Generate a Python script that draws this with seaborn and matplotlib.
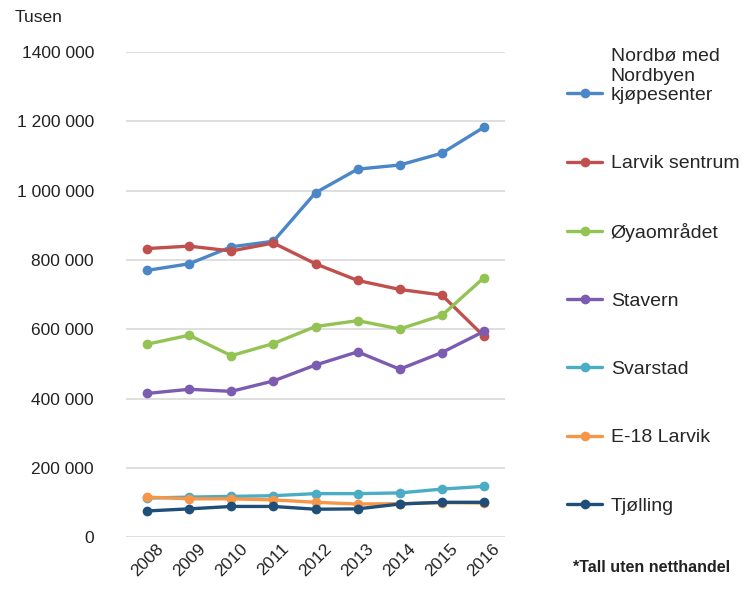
import matplotlib
matplotlib.use("Agg")
import matplotlib.pyplot as plt
import seaborn as sns
import pandas as pd

years = ["2008", "2009", "2010", "2011", "2012", "2013", "2014", "2015", "2016"]

nordbo = [770000, 789000, 838000, 854000, 994000, 1062000, 1074000, 1108000, 1183000]
larvik_sentrum = [833000, 840000, 826000, 849000, 789000, 741000, 715000, 699000, 580000]
oyaomradet = [557000, 583000, 524000, 559000, 608000, 625000, 601000, 640000, 749000]
stavern = [415000, 427000, 421000, 451000, 497000, 535000, 485000, 533000, 594000]
svarstad = [113000, 116000, 118000, 120000, 126000, 126000, 128000, 139000, 147000]
e18_larvik = [116000, 111000, 111000, 108000, 101000, 96000, 97000, 100000, 99000]
tjolling = [76000, 82000, 89000, 89000, 81000, 82000, 96000, 101000, 101000]

series_names = ["Nordbø med\nNordbyen\nkjøpesenter", "Larvik sentrum", "Øyaområdet",
                "Stavern", "Svarstad", "E-18 Larvik", "Tjølling"]
series_values = [nordbo, larvik_sentrum, oyaomradet, stavern, svarstad, e18_larvik, tjolling]
colors = ["#4a86c8", "#c0504d", "#92c353", "#7b5cb0", "#4bacc6", "#f79646", "#1f4e79"]

ytick_values = [0, 200000, 400000, 600000, 800000, 1000000, 1200000, 1400000]
ytick_labels = ["0", "200 000", "400 000", "600 000", "800 000", "1 000 000", "1 200 000", "1400 000"]

rows = []
for name, vals in zip(series_names, series_values):
    for i, (y, v) in enumerate(zip(years, vals)):
        rows.append({"idx": i, "year": y, "value": v, "serie": name})
df = pd.DataFrame(rows)

sns.set_theme(style="white")
plt.rcParams["font.family"] = ["Liberation Sans", "DejaVu Sans"]

fig = plt.figure(figsize=(7.43, 5.99), dpi=100)
ax = fig.add_axes([126 / 743, 1 - 537.3 / 599, (505 - 126) / 743, (537.3 - 52) / 599])

sns.lineplot(data=df, x="idx", y="value", hue="serie", hue_order=series_names,
             palette=colors, marker="o", markersize=7, markeredgewidth=0,
             linewidth=2.4, ax=ax, legend=True, clip_on=False)

ax.set_xlim(-0.5, len(years) - 0.5)
ax.set_ylim(0, 1400000)
ax.set_yticks(ytick_values)
ax.set_yticklabels(ytick_labels, fontsize=12.5, color="#222222")
ax.set_xticks(range(len(years)))
ax.set_xticklabels(years, rotation=45, ha="center", fontsize=12.5, color="#222222")
ax.tick_params(axis="y", length=0, pad=23)
ax.tick_params(axis="x", length=0, pad=3)
ax.set_xlabel("")
ax.set_ylabel("")
ax.grid(axis="y", color="#d9d9d9", linewidth=1.2)
ax.grid(axis="x", visible=False)
ax.set_axisbelow(True)
for s in ax.spines.values():
    s.set_visible(False)

handles, labels = ax.get_legend_handles_labels()
ax.legend_.remove()
leg = fig.legend(handles, labels, loc="upper left", bbox_to_anchor=(567 / 743, 1 - 48 / 599),
                 frameon=False, fontsize=14, handlelength=1.8, handletextpad=0.45,
                 labelspacing=2.6, borderpad=0, borderaxespad=0)
# align the handle of the multi-line entry with its lower text lines
try:
    for col in leg._legend_handle_box.get_children():
        for hp in col.get_children():
            tb = hp.get_children()[1]
            if "\n" in tb._text.get_text():
                tb._multilinebaseline = False
except Exception:
    pass

fig.text(15 / 743, 1 - 18 / 599, "Tusen", fontsize=12.5, color="#222222", va="center", ha="left")
fig.text(573 / 743, 1 - 568 / 599, "*Tall uten netthandel", fontsize=11.5,
         fontweight="bold", color="#222222", va="center", ha="left")

fig.savefig("out.png", dpi=100)
